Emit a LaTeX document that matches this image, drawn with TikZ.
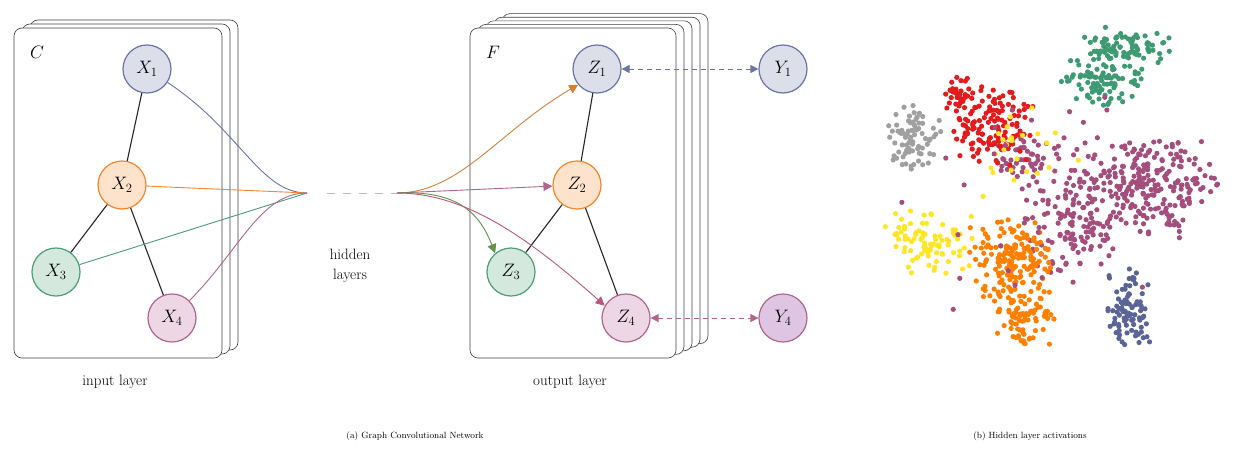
\RequirePackage{fix-cm}
\documentclass[tikz,border=0pt]{standalone}
\usepackage{fontspec}
\usetikzlibrary{arrows.meta}
\definecolor{cb}{HTML}{6A74A6}\definecolor{fb}{HTML}{DCDFEA}
\definecolor{co}{HTML}{F7862A}\definecolor{fo}{HTML}{FDE2CC}
\definecolor{cg}{HTML}{4C9C7C}\definecolor{fg}{HTML}{D5E8DE}
\definecolor{cp}{HTML}{B0658F}\definecolor{fp}{HTML}{EDD7E4}\definecolor{fy}{HTML}{DEC6E2}
\definecolor{sg}{HTML}{3E9A72}\definecolor{sr}{HTML}{E41A1C}\definecolor{sgr}{HTML}{A0A0A0}
\definecolor{sm}{HTML}{A44E7E}\definecolor{sy}{HTML}{FFE625}\definecolor{so}{HTML}{FF7F00}
\definecolor{sb}{HTML}{5A6496}
\begin{document}
\begin{tikzpicture}[x=1pt,y=-1pt,font=\fontsize{15}{18}\selectfont,
 card/.style={draw=black!75,fill=white,rounded corners=8pt,line width=0.6pt},
 nd/.style={circle,minimum size=48pt,inner sep=0pt,line width=1.2pt,font=\fontsize{18}{20}\selectfont},
 nb/.style={nd,draw=cb,fill=fb},no/.style={nd,draw=co,fill=fo},
 ng/.style={nd,draw=cg,fill=fg},np/.style={nd,draw=cp,fill=fp},
 edge/.style={line width=1.1pt,black!85},
 fl/.style={line width=0.9pt},
 ar/.style={fl,-{Triangle[length=9pt,width=9pt]}},
 dar/.style={line width=0.9pt,dashed,dash pattern=on 5pt off 4pt,{Triangle[length=8pt,width=8pt]}-{Triangle[length=8pt,width=8pt]}}]
\useasboundingbox (0,0) rectangle (1238,455);
% input cards
\foreach \i in {2,1,0}{\draw[card] (14+8*\i,28-4*\i) rectangle (222+8*\i,358-4*\i);}
\node[font=\fontsize{18}{20}\selectfont] at (37,52) {$C$};
\node[nb] (x1) at (147,69) {$X_1$};
\node[no] (x2) at (122,185) {$X_2$};
\node[ng] (x3) at (56,272) {$X_3$};
\node[np] (x4) at (172,318) {$X_4$};
\draw[edge] (x1)--(x2) (x2)--(x3) (x2)--(x4);
\coordinate (h1) at (307,193); \coordinate (h2) at (397,193);
\draw[fl,cb] (x1) .. controls (240,130) and (260,193) .. (h1);
\draw[fl,co] (x2) -- (h1);
\draw[fl,cg] (x3) -- (h1);
\draw[fl,cp] (x4) .. controls (240,250) and (260,193) .. (h1);
\draw[line width=1pt,cb!50,dash pattern=on 8pt off 8pt] (h1)++(20,0) -- (h2);
% output cards
\foreach \i in {4,3,2,1,0}{\draw[card] (470+8*\i,28-3.6*\i) rectangle (676+8*\i,358-3.6*\i);}
\node[font=\fontsize{18}{20}\selectfont] at (493,52) {$F$};
\node[nb] (z1) at (597,69) {$Z_1$};
\node[no] (z2) at (577,185) {$Z_2$};
\node[ng] (z3) at (511,272) {$Z_3$};
\node[np] (z4) at (626,318) {$Z_4$};
\draw[edge] (z1)--(z2) (z2)--(z3) (z2)--(z4);
\draw[ar,co!85!black!90] (h2) .. controls (460,193) and (500,130) .. (z1.-140);
\draw[ar,cp] (h2) -- (z2);
\draw[ar,cg!60!olive] (h2) .. controls (460,190) and (480,215) .. (z3.130);
\draw[ar,cp!85!red] (h2) .. controls (460,193) and (520,230) .. (z4.150);
\node[nb] (y1) at (783,69) {$Y_1$};
\node[np,fill=fy] (y4) at (783,318) {$Y_4$};
\draw[dar,cb] (z1) -- (y1);
\draw[dar,cp] (z4) -- (y4);
\node[align=center] (hl) at (350,266) {hidden\\[2pt]layers};
\node (il) at (115,382) {input layer};
\node (ol) at (570,382) {output layer};
\node[font=\fontsize{9}{10}\selectfont] (ca) at (415,436) {(a) Graph Convolutional Network};
\node[font=\fontsize{9}{10}\selectfont] (cbb) at (1030,436) {(b) Hidden layer activations};
% scatter
\pgfmathsetseed{7}
\def\cl#1#2#3#4#5#6{\foreach \k in {1,...,#6}{\pgfmathsetmacro\ux{#2+#4*(rand+rand)/2}\pgfmathsetmacro\uy{#3+#5*(rand+rand)/2}\fill[#1] (\ux,\uy) circle (2.6pt);}}
\cl{sm}{1140}{185}{85}{55}{260}
\cl{sm}{1070}{230}{55}{55}{110}
\cl{sm}{1030}{160}{40}{30}{50}
\cl{sg}{1100}{75}{45}{40}{110}
\cl{sg}{1130}{45}{45}{20}{70}
\cl{sr}{995}{125}{45}{45}{140}
\cl{sr}{960}{95}{20}{20}{30}
\cl{sgr}{915}{140}{30}{40}{80}
\cl{so}{1010}{260}{45}{45}{160}
\cl{so}{1025}{320}{35}{35}{80}
\cl{sy}{930}{240}{45}{35}{90}
\cl{sy}{1010}{150}{80}{60}{25}
\cl{sb}{1130}{310}{25}{45}{90}
\cl{sm}{1050}{200}{160}{130}{40}
\end{tikzpicture}
\end{document}
